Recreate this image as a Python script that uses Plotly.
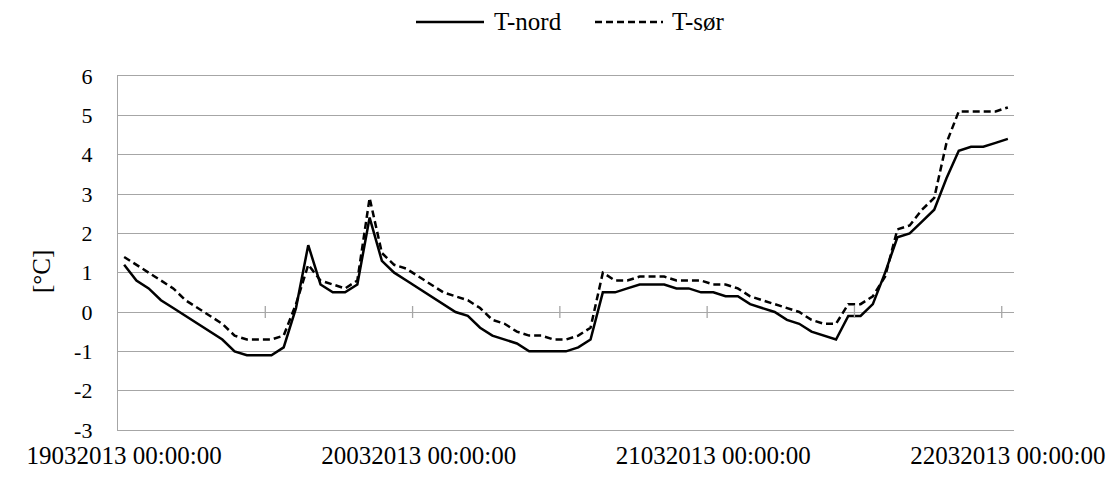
import plotly.graph_objects as go

# Hourly temperatures, 19.03.2013 00:00 to 22.03.2013 00:00
hours = list(range(73))

t_nord = [
    1.2, 0.8, 0.6, 0.3, 0.1, -0.1, -0.3, -0.5, -0.7, -1.0,
    -1.1, -1.1, -1.1, -0.9, 0.1, 1.7, 0.7, 0.5, 0.5, 0.7,
    2.4, 1.3, 1.0, 0.8, 0.6, 0.4, 0.2, 0.0, -0.1, -0.4,
    -0.6, -0.7, -0.8, -1.0, -1.0, -1.0, -1.0, -0.9, -0.7, 0.5,
    0.5, 0.6, 0.7, 0.7, 0.7, 0.6, 0.6, 0.5, 0.5, 0.4,
    0.4, 0.2, 0.1, 0.0, -0.2, -0.3, -0.5, -0.6, -0.7, -0.1,
    -0.1, 0.2, 1.0, 1.9, 2.0, 2.3, 2.6, 3.4, 4.1, 4.2,
    4.2, 4.3, 4.4,
]

t_sor = [
    1.4, 1.2, 1.0, 0.8, 0.6, 0.3, 0.1, -0.1, -0.3, -0.6,
    -0.7, -0.7, -0.7, -0.6, 0.2, 1.2, 0.8, 0.7, 0.6, 0.8,
    2.9, 1.5, 1.2, 1.1, 0.9, 0.7, 0.5, 0.4, 0.3, 0.1,
    -0.2, -0.3, -0.5, -0.6, -0.6, -0.7, -0.7, -0.6, -0.4, 1.0,
    0.8, 0.8, 0.9, 0.9, 0.9, 0.8, 0.8, 0.8, 0.7, 0.7,
    0.6, 0.4, 0.3, 0.2, 0.1, 0.0, -0.2, -0.3, -0.3, 0.2,
    0.2, 0.4, 0.9, 2.1, 2.2, 2.6, 2.9, 4.3, 5.1, 5.1,
    5.1, 5.1, 5.2,
]

label_hours = [0, 24, 48, 72]
label_text = [
    "19032013 00:00:00",
    "20032013 00:00:00",
    "21032013 00:00:00",
    "22032013 00:00:00",
]
y_ticks = [-3, -2, -1, 0, 1, 2, 3, 4, 5, 6]
y_tick_text = [str(v) for v in y_ticks]
# tick marks sit on category boundaries every 12 hours
tick_hours = [11.5, 23.5, 35.5, 47.5, 59.5, 71.5]

FONT = "Liberation Serif, Times New Roman, serif"
FS = 25
GRID = "#A6A6A6"
L, R, T, B = 118, 106, 76, 49
W, H = 1120, 479
PW, PH = W - L - R, H - T - B


def px_x(px):
    return (px - L) / PW


def px_y(py):
    return (H - B - py) / PH


fig = go.Figure()
fig.add_trace(go.Scatter(
    x=hours, y=t_nord, name="T-nord", mode="lines",
    line=dict(color="black", width=2.5),
))
fig.add_trace(go.Scatter(
    x=hours, y=t_sor, name="T-sør", mode="lines",
    line=dict(color="black", width=2.5, dash="7px,4px"),
))

for h in tick_hours:
    fig.add_shape(
        type="line", xref="x", yref="y", x0=h, x1=h,
        ysizemode="pixel", yanchor=0, y0=-6, y1=6,
        line=dict(color=GRID, width=1.3),
    )

# legend: line sample followed by series name
legend_items = [
    ("T-nord", "solid", 416, 484, 492),
    ("T-sør", "7px,4px", 595, 663, 670),
]
for name, dash, x0, x1, xt in legend_items:
    fig.add_shape(
        type="line", xref="paper", yref="paper",
        x0=px_x(x0), x1=px_x(x1), y0=px_y(22), y1=px_y(22),
        line=dict(color="black", width=2.5, dash=dash),
    )
    fig.add_annotation(
        text=name, xref="paper", yref="paper", x=px_x(xt), y=px_y(22),
        xanchor="left", yanchor="middle", showarrow=False,
        font=dict(family=FONT, size=FS, color="black"),
    )

fig.add_annotation(
    text="[°C]", textangle=-90, xref="paper", yref="paper",
    x=px_x(41), y=px_y(272),
    xanchor="center", yanchor="middle", showarrow=False,
    font=dict(family=FONT, size=FS, color="black"),
)

fig.update_layout(
    width=W, height=H,
    margin=dict(l=L, r=R, t=T, b=B, autoexpand=False),
    paper_bgcolor="white", plot_bgcolor="white",
    font=dict(family=FONT, size=FS, color="black"),
    showlegend=False,
    xaxis=dict(
        range=[-0.5, 72.5], tickmode="array", tickvals=label_hours,
        ticktext=label_text, ticks="", showgrid=False, zeroline=False,
        showline=True, linecolor=GRID, linewidth=1.3, mirror=True,
        ticklabelstandoff=3, automargin=False,
        tickfont=dict(family=FONT, size=25, color="black"),
    ),
    yaxis=dict(
        range=[-3, 6], tickmode="array", tickvals=y_ticks,
        ticktext=y_tick_text, showgrid=True, gridcolor=GRID,
        gridwidth=1.3, zeroline=False, showline=True, linecolor=GRID,
        linewidth=1.3, ticks="", ticklabelstandoff=20, automargin=False,
        tickfont=dict(family=FONT, size=22, color="black"),
    ),
)

fig.write_html("out.html")
